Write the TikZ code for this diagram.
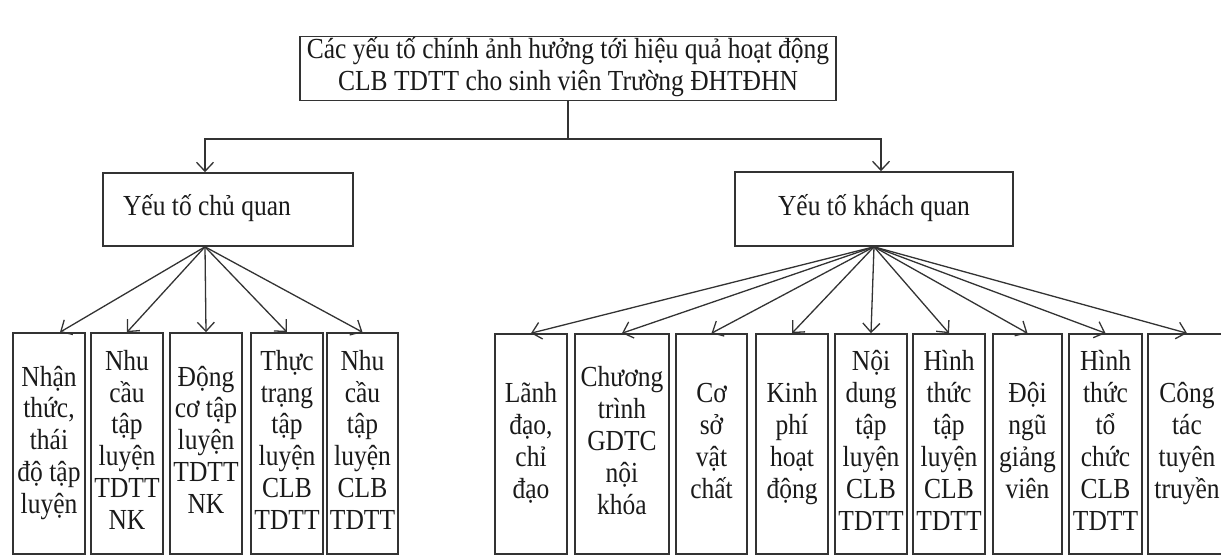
\documentclass[tikz,border=0pt]{standalone}
\usepackage{fontspec}
\setmainfont{Liberation Serif}
\usepackage{graphicx}
\usetikzlibrary{arrows.meta,calc}
\definecolor{linec}{HTML}{333333}
\definecolor{textc}{HTML}{1A1A1A}
\newcommand{\vtxt}[1]{\scalebox{1}[1.14]{\begin{tabular}{@{}c@{}}#1\end{tabular}}}
\tikzset{
  x=1pt,y=-1pt,
  fbox/.style={draw=linec, line width=1.6pt, inner sep=0pt, text=textc, font=\fontsize{25.5pt}{28pt}\selectfont},
  lbl/.style={inner sep=0pt, text=textc, font=\fontsize{25.5pt}{28pt}\selectfont},
  conn/.style={draw=linec, line width=1.3pt},
  arr/.style={conn, -{Straight Barb[length=9pt,width=17pt,line width=1.3pt]}}
}
\begin{document}
\begin{tikzpicture}
\useasboundingbox (0,0) rectangle (1221,555);
% top box
\node[fbox, minimum width=536pt, minimum height=57pt] (top) at (568,68.5)
  {\vtxt{Các yếu tố chính ảnh hưởng tới hiệu quả hoạt động\\CLB TDTT cho sinh viên Trường ĐHTĐHN}};
% second level
\node[fbox, minimum width=250pt, minimum height=73pt] (sub1) at (228,209.5) {};
\node[lbl] (sub1t) at (207,209.5) {\vtxt{Yếu tố chủ quan}};
\node[fbox, minimum width=278pt, minimum height=74pt] (sub2) at (874,209) {\vtxt{Yếu tố khách quan}};
% bottom left boxes
\foreach \n/\cx/\w/\t in {
  l1/49/72/{Nhận\\thức,\\thái\\độ tập\\luyện},
  l2/127/72/{Nhu\\cầu\\tập\\luyện\\TDTT\\NK},
  l3/206/72/{Động\\cơ tập\\luyện\\TDTT\\NK},
  l4/287/72/{Thực\\trạng\\tập\\luyện\\CLB\\TDTT},
  l5/362.5/71/{Nhu\\cầu\\tập\\luyện\\CLB\\TDTT}}{
  \node[fbox, minimum width=\w pt, minimum height=221pt] (\n) at (\cx,443.5) {\vtxt{\t}};
}
% bottom right boxes
\foreach \n/\cx/\w/\t in {
  r1/531/72/{Lãnh\\đạo,\\chỉ\\đạo},
  r2/622/94/{Chương\\trình\\GDTC\\nội\\khóa},
  r3/711.5/71/{Cơ\\sở\\vật\\chất},
  r4/792/72/{Kinh\\phí\\hoạt\\động},
  r5/871/72/{Nội\\dung\\tập\\luyện\\CLB\\TDTT},
  r6/949/72/{Hình\\thức\\tập\\luyện\\CLB\\TDTT},
  r7/1027.5/69/{Đội\\ngũ\\giảng\\viên},
  r8/1105.5/73/{Hình\\thức\\tổ\\chức\\CLB\\TDTT},
  r9/1187/78/{Công\\tác\\tuyên\\truyền}}{
  \node[fbox, minimum width=\w pt, minimum height=220pt] (\n) at (\cx,444) {\vtxt{\t}};
}
% connectors top -> second level
\coordinate (j) at (top.south |- 0,139);
\draw[conn] (top.south) -- (j);
\coordinate (s1in) at (205,0 |- sub1.north);
\draw[arr] (j) -| (s1in);
\draw[arr] (j) -| ([xshift=7pt]sub2.north);
% subjective children
\coordinate (s1out) at (205,0 |- sub1.south);
\draw[arr] (s1out) -- ([xshift=11pt]l1.north);
\foreach \n in {l2,l3,l4,l5}{\draw[arr] (s1out) -- (\n.north);}
% objective children
\foreach \n in {r1,r2,r3,r4,r5,r6,r7,r8,r9}{\draw[arr] (sub2.south) -- (\n.north);}
\end{tikzpicture}
\end{document}
